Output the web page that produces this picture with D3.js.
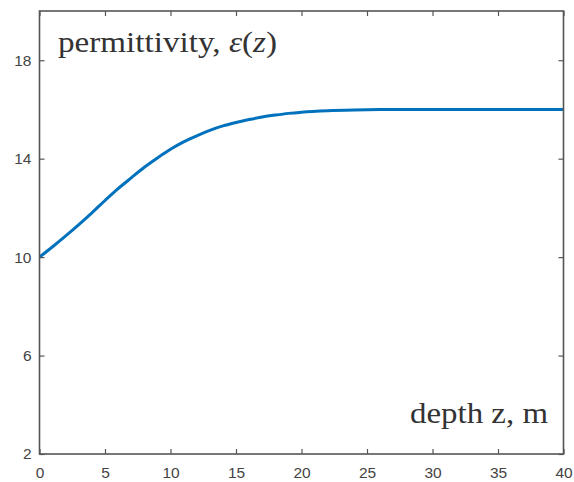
<!DOCTYPE html>
<html>
<head>
<meta charset="utf-8">
<script src="https://cdn.jsdelivr.net/npm/d3@7"></script>
<style>
  html, body { margin: 0; padding: 0; background: #fff; }
  svg { display: block; }
</style>
</head>
<body>
<svg id="chart" width="574" height="482"></svg>
<script>
// depth z (m) and permittivity values
const depth = [0, 1, 2, 3, 4, 5, 6, 7, 8, 9, 10, 11, 12, 13, 14, 15, 16, 17, 18, 19, 20, 22, 24, 26, 28, 30, 35, 40];
const permittivity = [10, 10.42, 10.86, 11.32, 11.8, 12.3, 12.78, 13.22, 13.65, 14.03, 14.38, 14.68, 14.93, 15.15, 15.33, 15.47, 15.59, 15.69, 15.77, 15.84, 15.89, 15.95, 15.98, 15.995, 16, 16, 16, 16];
const xTicks = [0, 5, 10, 15, 20, 25, 30, 35, 40];
const yTicks = [2, 6, 10, 14, 18];
const xDomain = [0, 40];
const yDomain = [2, 20];

const svg = d3.select("#chart");
const m = { left: 39.5, right: 563.5, top: 11, bottom: 454 };
const x = d3.scaleLinear().domain(xDomain).range([m.left, m.right]);
const y = d3.scaleLinear().domain(yDomain).range([m.bottom, m.top]);

const axisColor = "#555";
const labelColor = "#444";
const tickLen = 5;

// curve
const line = d3.line().x((d, i) => x(depth[i])).y(d => y(d)).curve(d3.curveMonotoneX);
svg.append("path")
  .datum(permittivity)
  .attr("d", line)
  .attr("fill", "none")
  .attr("stroke", "#0072BD")
  .attr("stroke-width", 3)
  .attr("stroke-linejoin", "round");

// axes (inward ticks, box)
function styleAxis(g) {
  g.selectAll(".domain").remove();
  g.selectAll(".tick line").attr("stroke", axisColor).attr("stroke-width", 1.2);
  g.selectAll(".tick text").attr("fill", labelColor)
    .style("font-family", "'Liberation Sans', Arial, Helvetica, sans-serif")
    .style("font-size", "15.5px");
}
const gx = svg.append("g").attr("transform", `translate(0,${m.bottom})`)
  .call(d3.axisBottom(x).tickValues(xTicks).tickSizeInner(-tickLen).tickSizeOuter(0).tickPadding(13));
styleAxis(gx);
const gy = svg.append("g").attr("transform", `translate(${m.left},0)`)
  .call(d3.axisLeft(y).tickValues(yTicks).tickSizeInner(-tickLen).tickSizeOuter(0).tickPadding(8));
styleAxis(gy);
const gt = svg.append("g").attr("transform", `translate(0,${m.top})`)
  .call(d3.axisTop(x).tickValues(xTicks).tickSizeInner(-tickLen).tickSizeOuter(0).tickFormat(""));
styleAxis(gt);
const gr = svg.append("g").attr("transform", `translate(${m.right},0)`)
  .call(d3.axisRight(y).tickValues(yTicks).tickSizeInner(-tickLen).tickSizeOuter(0).tickFormat(""));
styleAxis(gr);

svg.append("rect")
  .attr("x", m.left).attr("y", m.top)
  .attr("width", m.right - m.left).attr("height", m.bottom - m.top)
  .attr("fill", "none").attr("stroke", axisColor).attr("stroke-width", 1.6);

// annotations
const serif = "'Liberation Serif', 'DejaVu Serif', 'Times New Roman', serif";
const t1 = svg.append("text").attr("x", 58).attr("y", 52)
  .attr("textLength", 219).attr("lengthAdjust", "spacingAndGlyphs")
  .style("font-family", serif).style("font-size", "29px").attr("fill", "#333");
t1.append("tspan").text("permittivity, ");
t1.append("tspan").style("font-style", "italic").text("ε");
t1.append("tspan").text("(");
t1.append("tspan").style("font-style", "italic").text("z");
t1.append("tspan").text(")");

svg.append("text").attr("x", 410).attr("y", 423)
  .attr("textLength", 138).attr("lengthAdjust", "spacingAndGlyphs")
  .style("font-family", serif).style("font-size", "29px").attr("fill", "#333")
  .text("depth z, m");
</script>
</body>
</html>
